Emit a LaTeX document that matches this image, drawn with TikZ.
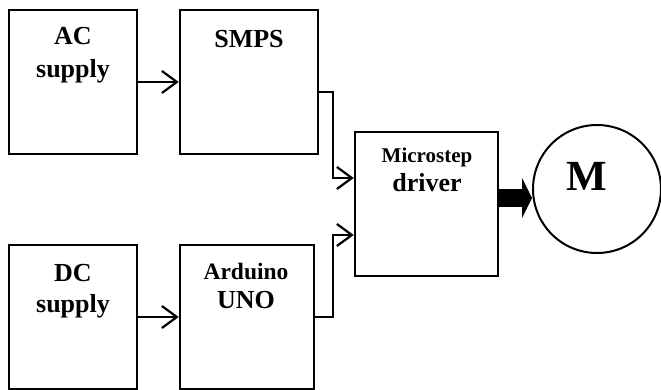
\documentclass[tikz,border=0pt]{standalone}
\usepackage{fontspec}
\setmainfont{Liberation Serif}
\usetikzlibrary{arrows.meta}
\begin{document}
\begin{tikzpicture}[x=1pt,y=-1pt,
  box/.style={draw,line width=2.5pt,inner sep=0pt},
  lbl/.style={inner sep=0pt,anchor=base,font=\bfseries\fontsize{26}{30}\selectfont},
  arr/.style={line width=2.2pt,-{Straight Barb[length=15pt,width=22pt,line width=2.2pt]}},
  wire/.style={line width=2.2pt}]
\useasboundingbox (0,0) rectangle (661,390);
% boxes
\node[box,minimum width=128pt,minimum height=144pt] (ac) at (73,82) {};
\node[box,minimum width=138pt,minimum height=144pt] (smps) at (249,82) {};
\node[box,minimum width=128pt,minimum height=144pt] (dc) at (73,317) {};
\node[box,minimum width=134pt,minimum height=144pt] (ard) at (247,317) {};
\node[box,minimum width=143pt,minimum height=144pt] (drv) at (426.5,204) {};
\node[draw,circle,line width=2pt,minimum size=128pt,inner sep=0pt] (mot) at (597,189) {};
% labels
\node[lbl] (acl1) at (73,45) {AC};
\node[lbl] (acl2) at (73,78) {supply};
\node[lbl] (smpsl) at (249,48) {SMPS};
\node[lbl] (dcl1) at (73,281) {DC};
\node[lbl] (dcl2) at (73,312) {supply};
\node[lbl,font=\bfseries\fontsize{23.5}{28}\selectfont] (ardl1) at (246,279) {Arduino};
\node[lbl] (ardl2) at (246,308) {UNO};
\node[lbl,font=\bfseries\fontsize{21}{25}\selectfont] (drvl1) at (427,163) {Microstep};
\node[lbl] (drvl2) at (427,192) {driver};
\node[lbl,font=\bfseries\fontsize{43}{50}\selectfont] (motl) at (587,191) {M};
% connectors
\draw[arr] (ac) -- (smps);
\draw[arr] (dc) -- (ard);
\draw[arr] ([yshift=-10pt]smps.east) -- ++(14,0) |- ([yshift=26pt]drv.west);
\draw[arr] (ard.east) -- ++(18,0) |- ([yshift=-31pt]drv.west);
\coordinate (t) at ([yshift=6pt]drv.east);
\draw[line width=18pt,-{Triangle[length=10pt,width=40pt]}] (t) -- (t -| mot.west);
\end{tikzpicture}
\end{document}
